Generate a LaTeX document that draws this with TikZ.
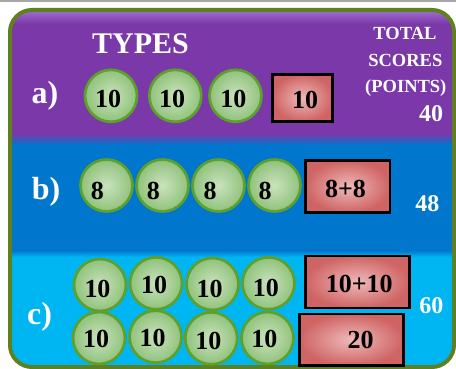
\documentclass[tikz,border=0pt]{standalone}
\usepackage{fontspec}
\setmainfont{Liberation Serif}
\definecolor{purpleC}{HTML}{7A38A8}
\definecolor{purpleL}{HTML}{A070D0}
\definecolor{blueC}{HTML}{0077CC}
\definecolor{cyanC}{HTML}{00B6F2}
\definecolor{oliveC}{HTML}{5F801E}
\definecolor{coinline}{HTML}{5DA02A}
\definecolor{coinin}{HTML}{CAE3BD}
\definecolor{coinout}{HTML}{90C27C}
\definecolor{tilein}{HTML}{EFB9B9}
\definecolor{tileout}{HTML}{CF6464}
\begin{document}
\begin{tikzpicture}[x=1pt,y=-1pt,
  coin/.style={circle, draw=coinline, line width=2.7pt, minimum size=52pt, inner sep=0pt, inner color=coinin, outer color=coinout},
  tile/.style={rectangle, draw=black, line width=2.6pt, inner sep=0pt, inner color=tilein, outer color=tileout},
  num/.style={inner sep=0pt, font=\fontsize{26}{30}\selectfont\bfseries, text=black},
  lbl/.style={inner sep=0pt, font=\fontsize{32}{36}\selectfont\bfseries, text=white},
  head/.style={inner sep=0pt, font=\fontsize{30}{34}\selectfont\bfseries, text=white},
  small/.style={inner sep=0pt, font=\fontsize{18.5}{22}\selectfont\bfseries, text=white},
  total/.style={inner sep=0pt, font=\fontsize{24}{28}\selectfont\bfseries, text=white}]
\useasboundingbox (0,0) rectangle (456,369);
\fill[white] (0,0) rectangle (456,369);
\draw[gray!70, line width=1.6pt] (0,0.8) -- (456,0.8);
% panel
\begin{scope}
\clip[rounded corners=22pt] (10,10) rectangle (454,367);
\fill[purpleC] (0,0) rectangle (456,134);
\shade[top color=purpleC, bottom color=blueC] (0,133.5) rectangle (456,145);
\fill[blueC] (0,144.5) rectangle (456,251);
\shade[top color=blueC, bottom color=cyanC] (0,250.5) rectangle (456,257);
\fill[cyanC] (0,256.5) rectangle (456,369);
\shade[top color=purpleL, bottom color=purpleC] (0,10) rectangle (456,24);
\end{scope}
\draw[oliveC, line width=4pt, rounded corners=22pt] (10,10) rectangle (454,367);
% headings
\node[head] (types) at (140.5,43.3) {TYPES};
\node[small] (tot1) at (405,33.7) {TOTAL};
\node[small] (tot2) at (405.3,60) {SCORES};
\node[small] (tot3) at (405.8,88.3) {(POINTS)};
% row a
\node[lbl] (la) at (45,95.5) {a)};
\node[coin] (a1) at (111,95.8) {};
\node[coin] (a2) at (175.3,95.8) {};
\node[coin] (a3) at (235.5,95.8) {};
\node[num] (ta1) at (108,98.7) {10};
\node[num] (ta2) at (172.2,98.7) {10};
\node[num] (ta3) at (233.3,98.8) {10};
\node[tile, minimum width=60.4pt, minimum height=47.4pt] (ba) at (302.5,98) {};
\node[num] (tba) at (305,100.3) {10};
\node[total] (sa) at (431,114) {40};
% row b
\node[lbl] (lb) at (46,191.5) {b)};
\node[coin] (b1) at (106.5,185.5) {};
\node[coin] (b2) at (162.5,185.5) {};
\node[coin] (b3) at (218.5,185.5) {};
\node[coin] (b4) at (274.5,185.5) {};
\node[num] (tb1) at (97.3,190.5) {8};
\node[num] (tb2) at (153.3,190.5) {8};
\node[num] (tb3) at (210,190.5) {8};
\node[num] (tb4) at (265,190.5) {8};
\node[tile, minimum width=84.7pt, minimum height=52pt] (bb) at (347.7,186.7) {};
\node[num] (tbb) at (345.5,188.5) {8+8};
\node[total] (sb) at (427.3,203.3) {48};
% row c
\node[lbl] (lc) at (39.5,316.7) {c)};
\node[coin] (c1) at (100,285) {};
\node[coin] (c2) at (156,283.3) {};
\node[coin] (c3) at (212.5,284) {};
\node[coin] (c4) at (268.5,283.3) {};
\node[coin] (c5) at (99,338) {};
\node[coin] (c6) at (155.5,336.7) {};
\node[coin] (c7) at (211.2,338.3) {};
\node[coin] (c8) at (267.5,338) {};
\node[num] (tc1) at (97.5,288.5) {10};
\node[num] (tc2) at (154,285) {10};
\node[num] (tc3) at (209.7,289) {10};
\node[num] (tc4) at (265.8,287.5) {10};
\node[num] (tc5) at (96.2,339.2) {10};
\node[num] (tc6) at (152.5,337.5) {10};
\node[num] (tc7) at (208.3,340.8) {10};
\node[num] (tc8) at (264.3,339) {10};
\node[tile, minimum width=104pt, minimum height=52pt] (bc1) at (357.3,282) {};
\node[num] (tbc1) at (359.3,283.8) {10+10};
\node[tile, minimum width=104pt, minimum height=51.4pt] (bc2) at (351.3,339.7) {};
\node[num] (tbc2) at (360.5,339.8) {20};
\node[total] (sc) at (431.3,306) {60};
\end{tikzpicture}
\end{document}
